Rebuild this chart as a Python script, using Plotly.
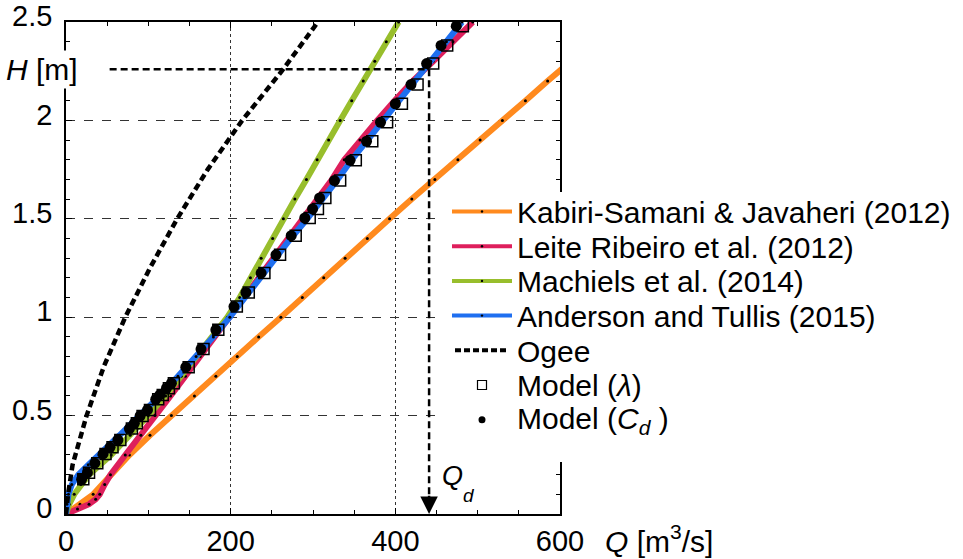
import plotly.graph_objects as go

# ---------------- data ----------------
# Kabiri-Samani & Javaheri (2012)
ks_H = [0, 0.05, 0.1, 0.2, 0.3, 0.4, 0.5, 0.6, 0.7, 0.8, 0.9, 1.0, 1.1, 1.2, 1.3,
        1.4, 1.5, 1.6, 1.7, 1.8, 1.9, 2.0, 2.1, 2.2, 2.3]
ks_Q = [0, 17, 33, 55, 77, 102, 128, 156, 182, 208, 234, 261, 287, 313, 339,
        366, 393, 420, 448, 476, 503, 530, 558, 585, 613]

# Leite Ribeiro et al. (2012)
lr_H = [0, 0.025, 0.05, 0.075, 0.1, 0.15, 0.2, 0.3, 0.4, 0.5, 0.6, 0.7, 0.8, 0.9,
        1.0, 1.1, 1.2, 1.3, 1.4, 1.5, 1.6, 1.7, 1.8, 1.9, 2.0, 2.1, 2.2, 2.3, 2.4, 2.5]
lr_Q = [0, 14, 28, 36, 41, 47, 54, 72, 91, 108, 127, 145, 163, 181,
        198, 216, 233, 251, 270, 288, 306, 323, 338, 357, 378, 399, 421, 446, 470, 494]

# Machiels et al. (2014)
ma_H = [0, 0.05, 0.1, 0.15, 0.2, 0.3, 0.4, 0.5, 0.6, 0.7, 0.8, 0.9, 1.0, 1.1,
        1.2, 1.3, 1.4, 1.5, 1.6, 1.7, 1.8, 1.9, 2.0, 2.1, 2.2, 2.3, 2.4, 2.5]
ma_Q = [0, 4, 10, 18, 28, 55, 78, 100, 121, 140, 159, 178, 196, 211,
        224, 237, 251, 264, 278, 292, 305, 319, 333, 347, 361, 375, 389, 404]

# Anderson and Tullis (2015)
at_H = [0, 0.05, 0.1, 0.15, 0.2, 0.25, 0.3, 0.4, 0.5, 0.6, 0.7, 0.8, 0.9, 1.0,
        1.1, 1.2, 1.3, 1.4, 1.5, 1.6, 1.7, 1.8, 1.9, 2.0, 2.1, 2.2, 2.3, 2.4, 2.5]
at_Q = [0, 1, 3, 7, 15, 27, 40, 65, 89, 114, 136, 158, 179, 199,
        217, 235, 254, 273, 293, 312, 330, 347, 366, 385, 404, 423, 443, 462, 481]

# Ogee
og_H = [0, 0.1, 0.25, 0.5, 0.75, 1.0, 1.25, 1.5, 1.75, 2.0, 2.25, 2.5]
og_Q = [0, 2.5, 8, 25, 46, 72, 102, 135, 172, 214, 262, 306]

# Model points
model_H = [0.176, 0.210, 0.258, 0.305, 0.339, 0.376, 0.434, 0.461, 0.498, 0.529,
           0.583, 0.605, 0.639, 0.665, 0.746, 0.838, 0.936, 1.054, 1.126, 1.224,
           1.317, 1.414, 1.504, 1.550, 1.606, 1.694, 1.797, 1.894, 1.990, 2.084,
           2.182, 2.289, 2.381, 2.479]
lam_Q = [21, 28, 38, 48, 56.5, 66, 80, 86, 93, 102,
         112, 117.5, 125, 131, 149, 167, 185, 207.5, 222, 241,
         260, 279, 296, 306, 315, 333, 352, 372, 390, 408,
         427, 446, 463, 482]
cd_Q = [19, 26, 35, 45, 53.5, 63, 77, 83, 90, 99,
        109, 114, 122, 128, 145.5, 164, 182, 204, 218.5, 237,
        255, 273.5, 290, 299.5, 308, 326, 345, 365, 382, 400,
        419, 438, 455.5, 474]

# design point
Qd = 441
Hd = 2.26
Hline_start = 53

x_ticks = [0, 200, 400, 600]
y_ticks = [0, 0.5, 1, 1.5, 2, 2.5]
y_ticktext = ["0", "0.5", "1", "1.5", "2", "2.5"]

series_names = ["Kabiri-Samani & Javaheri (2012)", "Leite Ribeiro et al. (2012)",
                "Machiels et al. (2014)", "Anderson and Tullis (2015)", "Ogee",
                "Model (<i>λ</i>)", "Model (<i>C</i><sub><i>d</i></sub> )"]
series_colors = ["#FF8A1E", "#DE1F5C", "#98BE2C", "#1F6FF0"]

FONT = "Liberation Sans, Arial, sans-serif"
FS = 29
LEG_FS = 30

# ---------------- figure geometry ----------------
W, Hpx = 963, 559
ML, MR, MT, MB = 66, 403, 22, 45
PW = W - ML - MR
PH = Hpx - MT - MB

def px_x(px):
    return (px - ML) / PW

def px_y(py):
    return (Hpx - MB - py) / PH

fig = go.Figure()

curves = [(ks_Q, ks_H), (lr_Q, lr_H), (ma_Q, ma_H), (at_Q, at_H)]
for (Q, H), name, color in zip(curves, series_names[:4], series_colors):
    fig.add_trace(go.Scatter(
        x=Q, y=H, name=name, mode="lines+markers", showlegend=False,
        line=dict(color=color, width=6),
        marker=dict(color="black", size=3, symbol="circle"),
    ))

fig.add_trace(go.Scatter(
    x=og_Q, y=og_H, name=series_names[4], mode="lines", showlegend=False,
    line=dict(color="black", width=4.5, dash="7px,4px"),
))
fig.add_trace(go.Scatter(
    x=lam_Q, y=model_H, name=series_names[5], mode="markers", showlegend=False,
    marker=dict(symbol="square-open", size=11, color="black", line=dict(width=1.5)),
))
fig.add_trace(go.Scatter(
    x=cd_Q, y=model_H, name=series_names[6], mode="markers", showlegend=False,
    marker=dict(symbol="circle", size=11, color="black"),
))

# ---------------- design discharge indicator ----------------
fig.add_shape(type="line", xref="x", yref="y", x0=Hline_start, x1=Qd, y0=Hd, y1=Hd,
              line=dict(color="black", width=2.5, dash="7px,4px"))
fig.add_shape(type="line", xref="x", yref="y", x0=Qd, x1=Qd, y0=Hd, y1=0.05,
              line=dict(color="black", width=2.5, dash="7px,4px"))
fig.add_annotation(x=Qd, y=0, ax=Qd, ay=0.1, xref="x", yref="y", axref="x", ayref="y",
                   text="", showarrow=True, arrowhead=2, arrowsize=1.4, arrowwidth=2.5,
                   arrowcolor="black")
fig.add_annotation(x=px_x(440), y=px_y(476), xref="paper", yref="paper",
                   xanchor="left", yanchor="middle",
                   text="<i>Q</i>", showarrow=False,
                   font=dict(family=FONT, size=27, color="black"))
fig.add_annotation(x=px_x(461), y=px_y(495), xref="paper", yref="paper",
                   xanchor="left", yanchor="middle",
                   text="<i>d</i>", showarrow=False,
                   font=dict(family=FONT, size=19, color="black"))

# axis titles
fig.add_annotation(x=px_x(3), y=px_y(70), xref="paper", yref="paper",
                   xanchor="left", yanchor="middle",
                   text="<i>H</i> [m]", showarrow=False, bgcolor="white", borderpad=2,
                   font=dict(family=FONT, size=30, color="black"))
fig.add_annotation(x=px_x(603), y=px_y(539), xref="paper", yref="paper", xanchor="left",
                   yanchor="middle", text="<i>Q</i> [m<sup>3</sup>/s]", showarrow=False,
                   font=dict(family=FONT, size=30, color="black"))

# ---------------- legend (drawn as layout items) ----------------
leg_left, leg_right, leg_top, leg_bot = 440, W, 192, 462
fig.add_shape(type="rect", xref="paper", yref="paper", layer="above",
              x0=px_x(leg_left), x1=px_x(leg_right), y0=px_y(leg_bot), y1=px_y(leg_top),
              fillcolor="white", line=dict(width=0))
row0, row_step = 211.5, 34.7
sym_x0, sym_x1, sym_mid, txt_x = 452, 512, 482, 515
for i, name in enumerate(series_names):
    ry = row0 + i * row_step
    if i < 4:
        fig.add_shape(type="line", xref="paper", yref="paper", layer="above",
                      x0=px_x(sym_x0), x1=px_x(sym_x1), y0=px_y(ry), y1=px_y(ry),
                      line=dict(color=series_colors[i], width=4))
        fig.add_shape(type="circle", xref="paper", yref="paper", layer="above",
                      xsizemode="pixel", ysizemode="pixel",
                      xanchor=px_x(sym_mid), yanchor=px_y(ry),
                      x0=-1.2, x1=1.2, y0=-1.2, y1=1.2,
                      fillcolor="black", line=dict(width=0))
    elif i == 4:
        fig.add_shape(type="line", xref="paper", yref="paper", layer="above",
                      x0=px_x(455), x1=px_x(506), y0=px_y(ry), y1=px_y(ry),
                      line=dict(color="black", width=4, dash="6px,3px"))
    elif i == 5:
        fig.add_shape(type="rect", xref="paper", yref="paper", layer="above",
                      xsizemode="pixel", ysizemode="pixel",
                      xanchor=px_x(sym_mid), yanchor=px_y(ry),
                      x0=-4.5, x1=4.5, y0=-4.5, y1=4.5,
                      fillcolor="white", line=dict(color="black", width=1.2))
    else:
        fig.add_shape(type="circle", xref="paper", yref="paper", layer="above",
                      xsizemode="pixel", ysizemode="pixel",
                      xanchor=px_x(sym_mid), yanchor=px_y(ry),
                      x0=-3.5, x1=3.5, y0=-3.5, y1=3.5,
                      fillcolor="black", line=dict(width=0))
    fig.add_annotation(x=px_x(txt_x), y=px_y(ry + 1), xref="paper", yref="paper",
                       xanchor="left", yanchor="middle", text=name, showarrow=False,
                       font=dict(family=FONT, size=LEG_FS, color="black"))

# ---------------- axes ----------------
axis_common = dict(
    showline=True, linecolor="black", linewidth=1.5, mirror="ticks",
    ticks="inside", ticklen=6, tickwidth=1.2, tickcolor="black",
    zeroline=False, showgrid=True, gridcolor="#333333", gridwidth=1.1,
    automargin=False,
    tickfont=dict(family=FONT, size=FS, color="black"),
)

fig.update_xaxes(range=[0, 600], tickvals=x_ticks, ticktext=[str(v) for v in x_ticks],
                 griddash="dot", ticklabelstandoff=0,
                 minor=dict(dtick=50, tick0=0, ticks="inside", ticklen=4,
                            tickcolor="black", showgrid=False),
                 **axis_common)
fig.update_yaxes(range=[0, 2.5], tickvals=y_ticks, ticktext=y_ticktext,
                 griddash="dash", ticklabelstandoff=6, ticklabelshift=-6,
                 minor=dict(dtick=0.1, tick0=0, ticks="inside", ticklen=4,
                            tickcolor="black", showgrid=False),
                 **axis_common)

fig.update_layout(
    width=W, height=Hpx,
    margin=dict(l=ML, r=MR, t=MT, b=MB),
    plot_bgcolor="white", paper_bgcolor="white",
    font=dict(family=FONT, size=FS, color="black"),
    showlegend=False,
)

fig.write_html("out.html", config={"displayModeBar": False},
               post_script="document.body.style.margin='0';")
